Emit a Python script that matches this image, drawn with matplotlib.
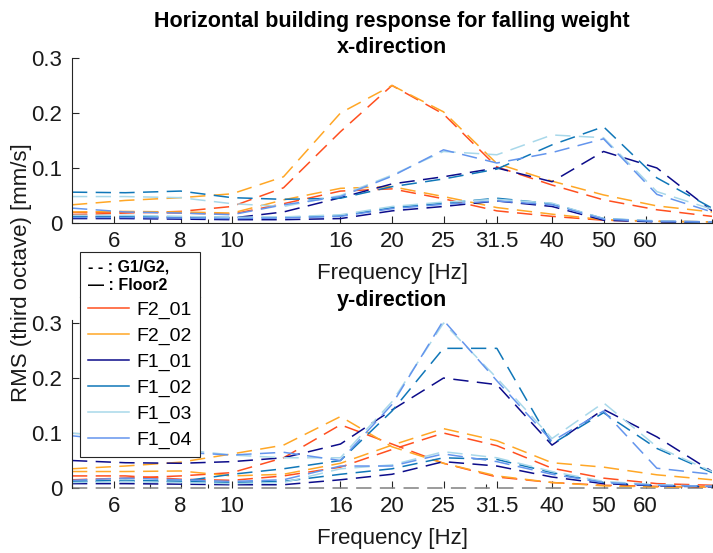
#Horizontal building response for falling weight
#RMS velocity per third octave band, x and y direction

import numpy as np
import matplotlib
matplotlib.use('Agg')
import matplotlib.pyplot as plt
from matplotlib.lines import Line2D
from matplotlib.ticker import FixedLocator, LogLocator, NullFormatter

plt.rcParams['font.family'] = ['Liberation Sans', 'DejaVu Sans']

# third octave band centre frequencies [Hz]
freq = [5, 6.3, 8, 10, 12.5, 16, 20, 25, 31.5, 40, 50, 63, 80]

tick_freq = [6, 8, 10, 16, 20, 25, 31.5, 40, 50, 60]
tick_labels = ['6', '8', '10', '16', '20', '25', '31.5', '40', '50', '60']

sensors = ['F2_01', 'F2_02', 'F1_01', 'F1_02', 'F1_03', 'F1_04']
colours = ['#ff4f1f', '#ffa726', '#0c0c8a', '#1077b8', '#a8d8ea', '#6495ed']

# x-direction, G1/G2 drop [mm/s]
x_g12_f2_01 = [0.015, 0.018, 0.021, 0.030, 0.064, 0.166, 0.250, 0.198, 0.102, 0.069, 0.042, 0.024, 0.012]
x_g12_f2_02 = [0.033, 0.041, 0.046, 0.053, 0.084, 0.200, 0.250, 0.202, 0.108, 0.076, 0.051, 0.031, 0.020]
x_g12_f1_01 = [0.012, 0.010, 0.010, 0.009, 0.020, 0.046, 0.071, 0.084, 0.100, 0.075, 0.130, 0.100, 0.022]
x_g12_f1_02 = [0.056, 0.055, 0.058, 0.046, 0.043, 0.045, 0.066, 0.080, 0.098, 0.142, 0.175, 0.082, 0.027]
x_g12_f1_03 = [0.048, 0.048, 0.046, 0.035, 0.030, 0.050, 0.087, 0.130, 0.124, 0.160, 0.155, 0.057, 0.025]
x_g12_f1_04 = [0.027, 0.020, 0.018, 0.015, 0.033, 0.048, 0.085, 0.133, 0.109, 0.128, 0.153, 0.052, 0.020]

# x-direction, Floor2 drop [mm/s]
x_fl2_f2_01 = [0.019, 0.020, 0.018, 0.016, 0.035, 0.058, 0.062, 0.044, 0.022, 0.012, 0.005, 0.003, 0.002]
x_fl2_f2_02 = [0.020, 0.021, 0.020, 0.018, 0.042, 0.063, 0.066, 0.048, 0.028, 0.016, 0.006, 0.003, 0.002]
x_fl2_f1_01 = [0.008, 0.008, 0.007, 0.006, 0.006, 0.008, 0.022, 0.030, 0.040, 0.030, 0.005, 0.002, 0.001]
x_fl2_f1_02 = [0.012, 0.012, 0.011, 0.010, 0.010, 0.013, 0.028, 0.036, 0.045, 0.035, 0.008, 0.003, 0.002]
x_fl2_f1_03 = [0.014, 0.014, 0.012, 0.010, 0.011, 0.015, 0.030, 0.038, 0.043, 0.036, 0.008, 0.004, 0.002]
x_fl2_f1_04 = [0.010, 0.010, 0.009, 0.008, 0.009, 0.012, 0.026, 0.034, 0.040, 0.033, 0.007, 0.003, 0.002]

# y-direction, G1/G2 drop [mm/s]
y_g12_f2_01 = [0.015, 0.018, 0.022, 0.028, 0.055, 0.115, 0.080, 0.045, 0.020, 0.010, 0.005, 0.003, 0.002]
y_g12_f2_02 = [0.035, 0.040, 0.047, 0.062, 0.078, 0.130, 0.075, 0.045, 0.022, 0.010, 0.004, 0.002, 0.002]
y_g12_f1_01 = [0.050, 0.046, 0.045, 0.048, 0.055, 0.080, 0.142, 0.200, 0.188, 0.078, 0.143, 0.093, 0.030]
y_g12_f1_02 = [0.012, 0.012, 0.012, 0.025, 0.035, 0.050, 0.140, 0.254, 0.254, 0.080, 0.137, 0.072, 0.028]
y_g12_f1_03 = [0.100, 0.090, 0.070, 0.060, 0.055, 0.055, 0.157, 0.300, 0.200, 0.090, 0.155, 0.075, 0.030]
y_g12_f1_04 = [0.095, 0.085, 0.065, 0.060, 0.065, 0.050, 0.152, 0.305, 0.195, 0.085, 0.140, 0.036, 0.025]

# y-direction, Floor2 drop [mm/s]
y_fl2_f2_01 = [0.022, 0.022, 0.016, 0.014, 0.022, 0.038, 0.070, 0.100, 0.077, 0.036, 0.018, 0.008, 0.005]
y_fl2_f2_02 = [0.030, 0.030, 0.031, 0.022, 0.025, 0.045, 0.078, 0.108, 0.086, 0.046, 0.038, 0.024, 0.015]
y_fl2_f1_01 = [0.008, 0.008, 0.007, 0.006, 0.006, 0.015, 0.025, 0.048, 0.040, 0.020, 0.008, 0.004, 0.002]
y_fl2_f1_02 = [0.012, 0.014, 0.012, 0.010, 0.012, 0.025, 0.035, 0.055, 0.052, 0.028, 0.010, 0.005, 0.003]
y_fl2_f1_03 = [0.010, 0.012, 0.010, 0.008, 0.010, 0.035, 0.042, 0.066, 0.055, 0.030, 0.012, 0.006, 0.003]
y_fl2_f1_04 = [0.014, 0.018, 0.015, 0.012, 0.015, 0.040, 0.040, 0.062, 0.048, 0.025, 0.010, 0.005, 0.003]

zero_line = [0] * len(freq)

x_g12 = [x_g12_f2_01, x_g12_f2_02, x_g12_f1_01, x_g12_f1_02, x_g12_f1_03, x_g12_f1_04]
x_fl2 = [x_fl2_f2_01, x_fl2_f2_02, x_fl2_f1_01, x_fl2_f1_02, x_fl2_f1_03, x_fl2_f1_04]
y_g12 = [y_g12_f2_01, y_g12_f2_02, y_g12_f1_01, y_g12_f1_02, y_g12_f1_03, y_g12_f1_04]
y_fl2 = [y_fl2_f2_01, y_fl2_f2_02, y_fl2_f1_01, y_fl2_f1_02, y_fl2_f1_03, y_fl2_f1_04]

dash = (0, (10, 5.5))
axis_col = '#262626'
fs = 16

fig = plt.figure(figsize=(7.13, 5.53), dpi=100)
ax1 = fig.add_axes([0.101, 0.5968, 0.8976, 0.2984])
ax2 = fig.add_axes([0.101, 0.1175, 0.8976, 0.3033])


def style_axis(ax, top):
    ax.set_xscale('log')
    ax.set_xlim(5, 80)
    ax.set_ylim(0, top)
    ax.xaxis.set_major_locator(FixedLocator(tick_freq))
    ax.set_xticklabels(tick_labels)
    ax.xaxis.set_minor_locator(LogLocator(base=10, subs='all'))
    ax.xaxis.set_minor_formatter(NullFormatter())
    ax.set_yticks([0, 0.1, 0.2, 0.3])
    ax.set_yticklabels(['0', '0.1', '0.2', '0.3'])
    ax.tick_params(which='both', direction='in', colors=axis_col, labelcolor='#1a1a1a',
                   labelsize=fs, top=False, right=False)
    ax.tick_params(which='major', length=5, width=0.8)
    ax.tick_params(which='minor', length=3, width=0.8)
    ax.tick_params(axis='x', pad=6)
    ax.tick_params(axis='y', pad=7)
    ax.spines['top'].set_visible(False)
    ax.spines['right'].set_visible(False)
    for s in ['left', 'bottom']:
        ax.spines[s].set_color(axis_col)
        ax.spines[s].set_linewidth(0.8)
    ax.set_xlabel('Frequency [Hz]', fontsize=fs, color='#1a1a1a', labelpad=8)
    ax.patch.set_alpha(0)


# x-direction
for g12, fl2, c in zip(x_g12, x_fl2, colours):
    ax1.plot(freq, g12, linestyle=dash, color=c, linewidth=1.1)
    ax1.plot(freq, fl2, linestyle=dash, color=c, linewidth=1.1)
style_axis(ax1, 0.3)
ax1.set_title('Horizontal building response for falling weight\nx-direction',
              fontsize=15.5, fontweight='bold', linespacing=1.3, pad=3)

# y-direction
ax2.plot(freq, zero_line, linestyle=dash, color='#808080', linewidth=1.1, clip_on=False)
for g12, fl2, c in zip(y_g12, y_fl2, colours):
    ax2.plot(freq, g12, linestyle=dash, color=c, linewidth=1.1)
    ax2.plot(freq, fl2, linestyle=dash, color=c, linewidth=1.1)
style_axis(ax2, 0.305)
ax2.spines['bottom'].set_visible(False)
ax2.set_title('y-direction', fontsize=15.5, fontweight='bold', pad=10)

fig.text(22 / 713, 0.5063, 'RMS (third octave) [mm/s]', rotation=90,
         ha='center', va='center', fontsize=fs, color='#1a1a1a')

# legend across both panels
handles = [Line2D([0], [0], color=c, linewidth=1.1) for c in colours]
leg = fig.legend(handles, sensors, loc='upper left', bbox_to_anchor=(80 / 713, 1 - 252 / 553),
                 borderaxespad=0, fontsize=14, title='- - : G1/G2,\n— : Floor2',
                 title_fontproperties={'weight': 'bold', 'size': 11.5}, alignment='left',
                 handlelength=2.1, handletextpad=0.4, labelspacing=0.42, borderpad=0.4,
                 fancybox=False, framealpha=1, edgecolor=axis_col)
leg.get_frame().set_linewidth(0.8)
leg.get_title().set_linespacing(1.3)

# separator line under the legend title
fig.canvas.draw()
lb = leg.get_window_extent()
tb = leg.get_title().get_window_extent()
fw, fh = fig.bbox.width, fig.bbox.height
ysep = (tb.y0 - 4) / fh
fig.add_artist(Line2D([lb.x0 / fw, lb.x1 / fw], [ysep, ysep], color=axis_col, linewidth=0.8))

fig.savefig('out.png', dpi=100)
